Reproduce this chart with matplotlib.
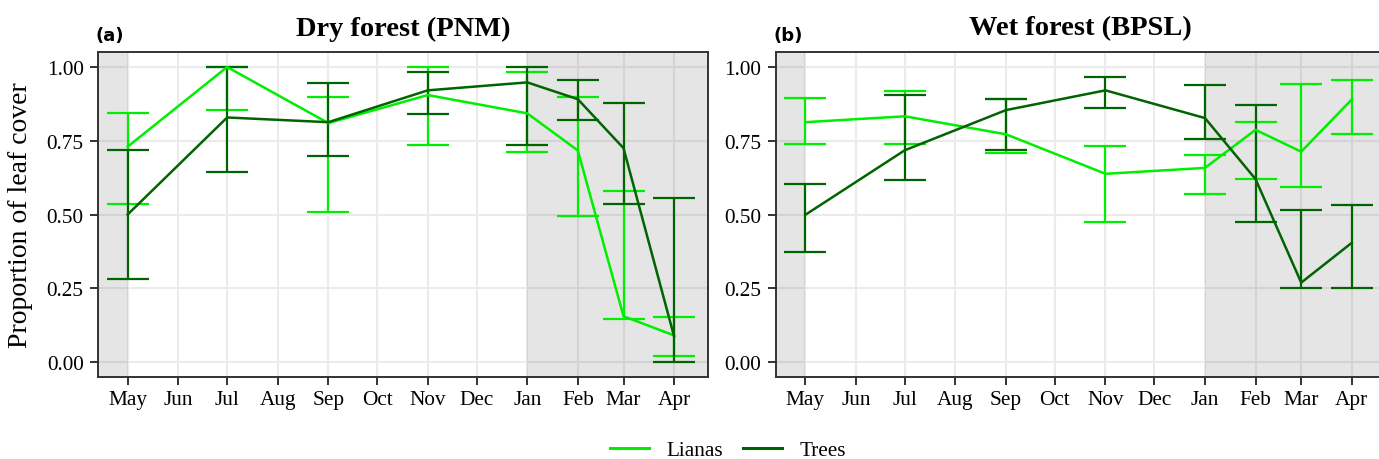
import numpy as np
import pandas as pd
import matplotlib
matplotlib.use("Agg")
import matplotlib.pyplot as plt
import matplotlib.dates as mdates
from matplotlib.lines import Line2D

# x axis: one tick per month, May 2014 to Apr 2015
month_dates = pd.date_range("2014-05-01", "2015-04-01", freq="MS")
month_labels = ["May", "Jun", "Jul", "Aug", "Sep", "Oct", "Nov", "Dec",
                "Jan", "Feb", "Mar", "Apr"]

# sampled months
sample_dates = pd.to_datetime(["2014-05-01", "2014-07-01", "2014-09-01", "2014-11-01",
                               "2015-01-01", "2015-02-01", "2015-03-01", "2015-04-01"])

# dry season shading
dry_end = pd.Timestamp("2014-05-01")
dry_start = pd.Timestamp("2015-01-01")

# (a) Dry forest (PNM)
dry_lianas_mean = [0.73, 1.00, 0.81, 0.905, 0.843, 0.717, 0.155, 0.09]
dry_lianas_low = [0.536, 0.855, 0.507, 0.737, 0.712, 0.494, 0.146, 0.02]
dry_lianas_high = [0.843, 1.00, 0.898, 1.00, 0.982, 0.899, 0.581, 0.151]
dry_trees_mean = [0.50, 0.829, 0.813, 0.921, 0.948, 0.891, 0.725, 0.087]
dry_trees_low = [0.282, 0.644, 0.699, 0.842, 0.735, 0.82, 0.537, 0.0]
dry_trees_high = [0.72, 1.00, 0.947, 0.984, 1.00, 0.955, 0.878, 0.556]

# (b) Wet forest (BPSL)
wet_lianas_mean = [0.813, 0.833, 0.772, 0.638, 0.658, 0.787, 0.713, 0.89]
wet_lianas_low = [0.738, 0.740, 0.709, 0.474, 0.571, 0.619, 0.593, 0.773]
wet_lianas_high = [0.896, 0.918, 0.893, 0.733, 0.702, 0.813, 0.943, 0.957]
wet_trees_mean = [0.499, 0.718, 0.854, 0.921, 0.827, 0.62, 0.269, 0.404]
wet_trees_low = [0.373, 0.616, 0.719, 0.861, 0.755, 0.473, 0.251, 0.251]
wet_trees_high = [0.604, 0.904, 0.891, 0.966, 0.938, 0.872, 0.516, 0.531]

LIANA_COL = "#00EE00"
TREE_COL = "#006400"
SERIF = "Liberation Serif"

plt.rcParams["font.family"] = SERIF

fig = plt.figure(figsize=(13.79, 4.6), dpi=100)
ax_a = fig.add_axes([0.07128, 0.17891, 0.44213, 0.70522])
ax_b = fig.add_axes([0.56273, 0.17891, 0.44213, 0.70522])

x_left = mdates.date2num(month_dates[0]) - 18.0
x_right = mdates.date2num(month_dates[-1]) + 20.8


def draw_series(ax, mean, low, high, col):
    mean = np.array(mean)
    low = np.array(low)
    high = np.array(high)
    ax.errorbar(sample_dates, mean, yerr=[mean - low, high - mean], fmt="none",
                ecolor=col, elinewidth=1.6, capsize=15, capthick=1.6, zorder=3)
    ax.plot(sample_dates, mean, color=col, lw=1.8, zorder=4)


def style_panel(ax, title, tag, ylabel=None):
    ax.set_xlim(x_left, x_right)
    ax.set_ylim(-0.05, 1.05)
    ax.axvspan(x_left, mdates.date2num(dry_end), color="black", alpha=0.1, lw=0, zorder=1)
    ax.axvspan(mdates.date2num(dry_start), x_right, color="black", alpha=0.1, lw=0, zorder=1)
    ax.set_axisbelow(True)
    ax.grid(True, color="#ebebeb", lw=1.5)
    ax.set_xticks(mdates.date2num(month_dates))
    ax.set_xticklabels(month_labels)
    ax.set_yticks([0, 0.25, 0.5, 0.75, 1.0])
    ax.set_yticklabels(["0.00", "0.25", "0.50", "0.75", "1.00"])
    ax.tick_params(axis="both", colors="#333333", width=1.4, length=5.5,
                   labelsize=15.3, labelcolor="black")
    ax.tick_params(axis="x", pad=4)
    ax.tick_params(axis="y", pad=5)
    for sp in ax.spines.values():
        sp.set_color("#333333")
        sp.set_linewidth(1.4)
    ax.set_title(title, fontsize=20.5, fontweight="bold", pad=12.8)
    ax.text(-0.004, 1.038, tag, transform=ax.transAxes, fontsize=13,
            fontweight="bold", family="DejaVu Sans", va="baseline", ha="left")
    if ylabel:
        ax.set_ylabel(ylabel, fontsize=20, labelpad=10)


draw_series(ax_a, dry_lianas_mean, dry_lianas_low, dry_lianas_high, LIANA_COL)
draw_series(ax_a, dry_trees_mean, dry_trees_low, dry_trees_high, TREE_COL)
style_panel(ax_a, "Dry forest (PNM)", "(a)", "Proportion of leaf cover")

draw_series(ax_b, wet_lianas_mean, wet_lianas_low, wet_lianas_high, LIANA_COL)
draw_series(ax_b, wet_trees_mean, wet_trees_low, wet_trees_high, TREE_COL)
style_panel(ax_b, "Wet forest (BPSL)", "(b)")

handles = [Line2D([], [], color=LIANA_COL, lw=2.2),
           Line2D([], [], color=TREE_COL, lw=2.2)]
fig.legend(handles, ["Lianas", "Trees"], loc="center",
           bbox_to_anchor=(728 / 1379, 1 - 451 / 460), ncol=2, frameon=False,
           fontsize=15.3, handlelength=1.83, handletextpad=0.85, columnspacing=0.9)

fig.savefig("out.png", dpi=100)
